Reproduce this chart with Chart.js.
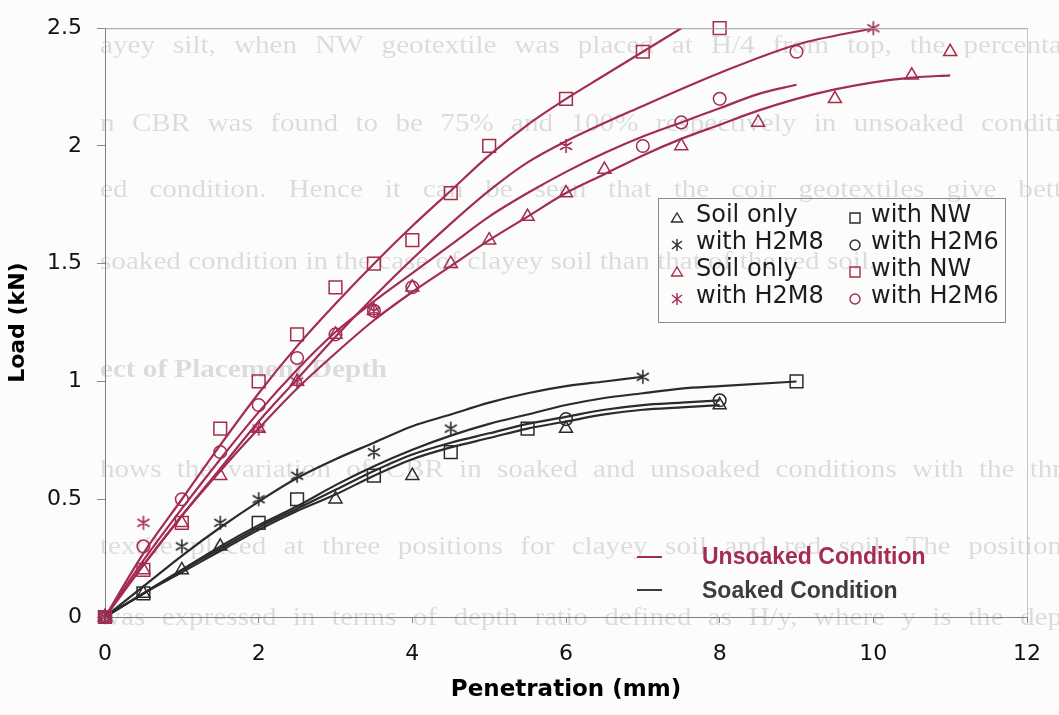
<!DOCTYPE html>
<html>
<head>
<meta charset="utf-8">
<script src="https://cdn.jsdelivr.net/npm/chart.js"></script>
<style>
html,body{margin:0;padding:0;background:#fcfcfa;}
#wrap{width:1059px;height:715px;}
</style>
</head>
<body>
<div id="wrap"><canvas id="cbr" width="1059" height="715"></canvas></div>
<script>
// CBR test points, [penetration mm, load kN]
const uSoil = [[0,0],[0.5,0.2],[1,0.4],[1.5,0.6],[2,0.8],[2.5,1.0],[3,1.2],[3.5,1.3],[4,1.4],[4.5,1.5],[5,1.6],[5.5,1.7],[6,1.8],[6.5,1.9],[7.5,2.0],[8.5,2.1],[9.5,2.2],[10.5,2.3],[11,2.4]];
const uNW = [[0,0],[0.5,0.2],[1,0.4],[1.5,0.8],[2,1.0],[2.5,1.2],[3,1.4],[3.5,1.5],[4,1.6],[4.5,1.8],[5,2.0],[6,2.2],[7,2.4],[8,2.5]];
const uH2M8 = [[0,0],[0.5,0.4],[2,0.8],[2.5,1.0],[3.5,1.3],[6,2.0],[10,2.5]];
const uH2M6 = [[0,0],[0.5,0.3],[1,0.5],[1.5,0.7],[2,0.9],[2.5,1.1],[3,1.2],[3.5,1.3],[4,1.4],[7,2.0],[7.5,2.1],[8,2.2],[9,2.4]];

const sSoil = [[0,0],[0.5,0.1],[1,0.2],[1.5,0.3],[3,0.5],[4,0.6],[6,0.8],[8,0.9]];
const sNW = [[0,0],[0.5,0.1],[2,0.4],[2.5,0.5],[3.5,0.6],[4.5,0.7],[5.5,0.8],[9,1.0]];
const sH2M8 = [[0,0],[1,0.3],[1.5,0.4],[2,0.5],[2.5,0.6],[3.5,0.7],[4.5,0.8],[7,1.02]];
const sH2M6 = [[0,0],[6,0.84],[8,0.92]];

// trend curves through each set
const uNWFit = [[0,0],[0.5,0.27],[1,0.5],[1.5,0.73],[2,0.95],[2.5,1.15],[3,1.33],[3.5,1.5],[4,1.66],[4.5,1.81],[5,1.96],[5.5,2.09],[6,2.2],[6.5,2.3],[7,2.4],[7.5,2.5]];
const uH2M8Fit = [[0,0],[0.5,0.22],[1,0.43],[1.5,0.63],[2,0.83],[2.5,1.01],[3,1.19],[3.5,1.36],[4,1.52],[4.5,1.67],[5,1.81],[5.5,1.93],[6,2.02],[7,2.17],[8,2.31],[9,2.43],[10,2.5]];
const uH2M6Fit = [[0,0],[0.5,0.24],[1,0.46],[1.5,0.67],[2,0.87],[2.5,1.05],[3,1.21],[3.5,1.34],[4,1.46],[4.5,1.58],[5,1.7],[5.5,1.8],[6,1.89],[6.5,1.97],[7,2.04],[7.5,2.1],[8,2.16],[8.5,2.22],[9,2.26]];
const uSoilFit = [[0,0],[0.5,0.22],[1,0.43],[1.5,0.62],[2,0.8],[2.5,0.97],[3,1.12],[3.5,1.26],[4,1.38],[4.5,1.49],[5,1.6],[5.5,1.7],[6,1.8],[6.5,1.88],[7,1.96],[7.5,2.03],[8,2.09],[8.5,2.15],[9,2.2],[9.5,2.24],[10,2.27],[10.5,2.29],[11,2.3]];

const sH2M8Fit = [[0,0],[0.5,0.13],[1,0.26],[1.5,0.38],[2,0.49],[2.5,0.59],[3,0.67],[3.5,0.74],[4,0.81],[4.5,0.86],[5,0.91],[5.5,0.95],[6,0.98],[6.5,1.0],[7,1.02]];
const sNWFit = [[0,0],[0.5,0.1],[1,0.2],[1.5,0.3],[2,0.39],[2.5,0.47],[3,0.56],[3.5,0.64],[4,0.71],[4.5,0.77],[5,0.82],[5.5,0.86],[6,0.9],[6.5,0.93],[7,0.95],[7.5,0.97],[8,0.98],[9,1.0]];
const sH2M6Fit = [[0,0],[0.5,0.1],[1,0.2],[1.5,0.29],[2,0.38],[2.5,0.46],[3,0.54],[3.5,0.62],[4,0.69],[4.5,0.74],[5,0.78],[5.5,0.82],[6,0.85],[6.5,0.88],[7,0.9],[7.5,0.91],[8,0.92]];
const sSoilFit = [[0,0],[0.5,0.1],[1,0.19],[1.5,0.28],[2,0.37],[2.5,0.45],[3,0.52],[3.5,0.6],[4,0.67],[4.5,0.72],[5,0.76],[5.5,0.8],[6,0.83],[6.5,0.86],[7,0.88],[7.5,0.89],[8,0.9]];

const seriesNames = ["Soil only","with NW","with H2M8","with H2M6"];
const conditionNames = ["Unsoaked Condition","Soaked Condition"];

const RED = "#a32c52";
const DARK = "#2b2b2b";
const SANS = "'DejaVu Sans', sans-serif";

// faint printed page showing through behind the plot
const pageText = [
  {t:"ayey silt, when NW geotextile was placed at H/4 from top, the percenta", y:46, x0:100, x1:1062},
  {t:"n CBR was found to be 75% and 100% respectively in unsoaked conditi", y:124, x0:100, x1:1062},
  {t:"ed condition. Hence it can be seen that the coir geotextiles give bett", y:190, x0:100, x1:1062},
  {t:"soaked condition in the case of clayey soil than that of the red soil.", y:262, x0:100},
  {t:"ect of Placement Depth", y:370, x0:100, bold:true},
  {t:"hows the variation of CBR in soaked and unsoaked conditions with the thr", y:470, x0:100, x1:1062},
  {t:"textile placed at three positions for clayey soil and red soil. The position", y:547, x0:100, x1:1062},
  {t:"was expressed in terms of depth ratio defined as H/y, where y is the dep", y:618, x0:100, x1:1062}
];

// wide-set type, words justified between x0 and x1 when x1 is given
function spread(ctx, text, x0, x1, y){
  const k = 1.12;
  const words = text.split(" ");
  const widths = words.map(w => ctx.measureText(w).width * k);
  const total = widths.reduce((a,b) => a+b, 0);
  let gap = ctx.measureText(" ").width * k;
  if (x1 !== undefined && words.length > 1) gap = Math.max(gap, (x1 - x0 - total) / (words.length - 1));
  let x = x0;
  words.forEach((w,i) => {
    ctx.save();
    ctx.translate(x, y);
    ctx.scale(k, 1);
    ctx.fillText(w, 0, 0);
    ctx.restore();
    x += widths[i] + gap;
  });
}

function asterisk(color){
  const c = document.createElement("canvas");
  c.width = 16; c.height = 16;
  const g = c.getContext("2d");
  g.strokeStyle = color; g.lineWidth = 1.6; g.lineCap = "round";
  g.beginPath();
  g.moveTo(8,1.5); g.lineTo(8,14.5);
  g.moveTo(2.5,4.5); g.lineTo(13.5,11.5);
  g.moveTo(2.5,11.5); g.lineTo(13.5,4.5);
  g.stroke();
  return c;
}

function drawMark(ctx, kind, x, y, color){
  ctx.save();
  ctx.strokeStyle = color; ctx.lineWidth = 1.4;
  ctx.beginPath();
  if (kind === "triangle"){ ctx.moveTo(x, y-5); ctx.lineTo(x+5.5, y+4); ctx.lineTo(x-5.5, y+4); ctx.closePath(); }
  else if (kind === "rect"){ ctx.rect(x-5, y-5, 10, 10); }
  else if (kind === "circle"){ ctx.arc(x, y, 5, 0, Math.PI*2); }
  else { ctx.moveTo(x, y-6); ctx.lineTo(x, y+6); ctx.moveTo(x-5, y-4); ctx.lineTo(x+5, y+4); ctx.moveTo(x-5, y+4); ctx.lineTo(x+5, y-4); }
  ctx.stroke();
  ctx.restore();
}

const xy = pts => pts.map(p => ({x:p[0], y:p[1]}));

function fit(pts, color){
  return {data:xy(pts), showLine:true, borderColor:color, borderWidth:2.2, pointRadius:0,
    cubicInterpolationMode:"monotone", fill:false};
}
function marks(pts, color, style, r){
  return {data:xy(pts), showLine:false, pointStyle:style, pointRadius:r, borderColor:color,
    pointBorderColor:color, backgroundColor:"rgba(0,0,0,0)", pointBackgroundColor:"rgba(0,0,0,0)",
    pointBorderWidth:1.5, clip:false};
}

const pagePlugin = {
  id:"page",
  beforeDraw(chart){
    const ctx = chart.ctx;
    ctx.save();
    ctx.fillStyle = "#fcfcfa";
    ctx.fillRect(0, 0, chart.width, chart.height);
    ctx.beginPath(); ctx.rect(97, 20, 962, 622); ctx.clip();
    ctx.fillStyle = "rgba(0,0,0,0.13)";
    ctx.textBaseline = "middle";
    pageText.forEach(l => {
      ctx.font = (l.bold ? "bold " : "") + "26px 'Liberation Serif', serif";
      spread(ctx, l.t, l.x0, l.x1, l.y);
    });
    ctx.restore();
  },
  afterDraw(chart){
    const ctx = chart.ctx;
    const a = chart.chartArea;
    ctx.save();
    // top and right edges of the plot frame
    ctx.strokeStyle = "#9a9a9a"; ctx.lineWidth = 1;
    ctx.beginPath(); ctx.moveTo(a.left, a.top + 0.5); ctx.lineTo(a.right, a.top + 0.5); ctx.stroke();
    ctx.strokeStyle = "#c4c4c4";
    ctx.beginPath(); ctx.moveTo(a.right + 0.5, a.top); ctx.lineTo(a.right + 0.5, a.bottom); ctx.stroke();

    // marker key
    ctx.strokeStyle = "#8a8a8a";
    ctx.strokeRect(658.5, 198.5, 347, 124);
    ctx.font = "24px " + SANS;
    ctx.fillStyle = "#1c1c1c";
    ctx.textBaseline = "middle";
    const rows = [
      [DARK, "triangle", seriesNames[0], "rect", seriesNames[1]],
      [DARK, "star", seriesNames[2], "circle", seriesNames[3]],
      [RED, "triangle", seriesNames[0], "rect", seriesNames[1]],
      [RED, "star", seriesNames[2], "circle", seriesNames[3]]
    ];
    const rowY = [216, 243, 270, 297];
    rows.forEach((r,i) => {
      drawMark(ctx, r[1], 677, rowY[i] + 2, r[0]);
      ctx.fillText(r[2], 696, rowY[i]);
      drawMark(ctx, r[3], 855, rowY[i] + 2, r[0]);
      ctx.fillText(r[4], 871, rowY[i]);
    });

    // condition key
    ctx.font = "bold 23px 'Liberation Sans', sans-serif";
    ctx.lineWidth = 2;
    ctx.strokeStyle = RED;
    ctx.beginPath(); ctx.moveTo(637, 557); ctx.lineTo(662, 557); ctx.stroke();
    ctx.fillStyle = RED;
    ctx.fillText(conditionNames[0], 702, 558);
    ctx.strokeStyle = "#3c3c3c";
    ctx.beginPath(); ctx.moveTo(637, 590); ctx.lineTo(662, 590); ctx.stroke();
    ctx.fillStyle = "#3c3c3c";
    ctx.fillText(conditionNames[1], 702, 592);
    ctx.restore();
  }
};

const starRed = asterisk(RED);
const starDark = asterisk(DARK);

new Chart(document.getElementById("cbr"), {
  type:"scatter",
  data:{
    datasets:[
      marks(uSoil, RED, "triangle", 7.5),
      marks(uNW, RED, "rect", 9),
      marks(uH2M8, RED, starRed, 8),
      marks(uH2M6, RED, "circle", 6.3),
      marks(sSoil, DARK, "triangle", 7.5),
      marks(sNW, DARK, "rect", 9),
      marks(sH2M8, DARK, starDark, 8),
      marks(sH2M6, DARK, "circle", 6.3),
      fit(uNWFit, RED),
      fit(uH2M8Fit, RED),
      fit(uH2M6Fit, RED),
      fit(uSoilFit, RED),
      fit(sH2M8Fit, DARK),
      fit(sNWFit, DARK),
      fit(sH2M6Fit, DARK),
      fit(sSoilFit, DARK)
    ]
  },
  options:{
    responsive:false,
    animation:false,
    devicePixelRatio:1,
    layout:{padding:{top:23, right:23, left:0, bottom:0}},
    plugins:{legend:{display:false}, tooltip:{enabled:false}},
    scales:{
      x:{
        type:"linear", min:0, max:12,
        ticks:{stepSize:2, color:"#111", font:{family:SANS, size:22}, padding:18},
        grid:{drawOnChartArea:false, tickLength:6, color:"#8a8a8a"},
        border:{color:"#808080"},
        title:{display:true, text:"Penetration (mm)", color:"#000", font:{family:SANS, size:23, weight:"bold"}, padding:{top:0, bottom:11}},
        afterFit(s){ s.height = 98; }
      },
      y:{
        type:"linear", min:0, max:2.5,
        ticks:{stepSize:0.5, color:"#111", font:{family:SANS, size:22}, padding:15,
          callback:v => String(Math.round(v * 10) / 10)},
        grid:{drawOnChartArea:false, tickLength:8, color:"#8a8a8a"},
        border:{color:"#808080"},
        title:{display:true, text:"Load (kN)", color:"#000", font:{family:SANS, size:22, weight:"bold"}, padding:{top:5, bottom:0}},
        afterFit(s){ s.width = 105; }
      }
    }
  },
  plugins:[pagePlugin]
});
</script>
</body>
</html>
